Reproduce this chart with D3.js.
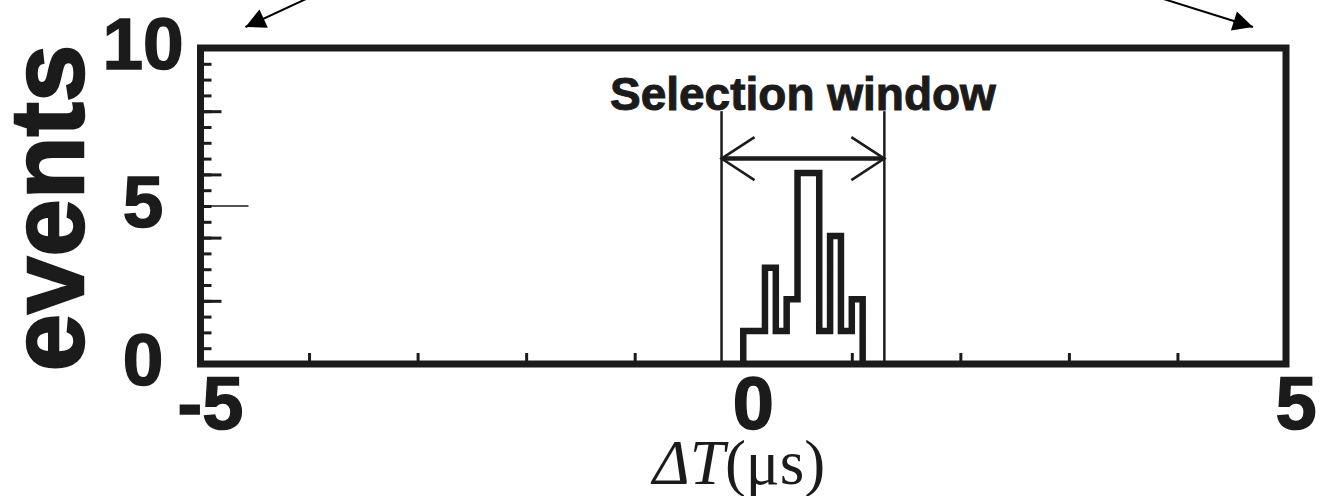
<!DOCTYPE html>
<meta charset="utf-8">
<script src="https://d3js.org/d3.v7.min.js"></script>
<style>
  body { margin: 0; background: #fff; }
  svg { display: block; }
</style>
<div id="chart"></div>
<script>
  // histogram of time differences, bins 0.1 us wide starting at 0
  const binEdges = [0.0, 0.1, 0.2, 0.3, 0.4, 0.5, 0.6, 0.7, 0.8, 0.9, 1.0, 1.1];
  const binCounts = [1, 1, 3, 1, 2, 6, 6, 1, 4, 1, 2];
  const selWindow = [-0.2, 1.3];
  const xLabels = [-5, 0, 5];
  const yLabels = [0, 5, 10];

  const width = 1326, height = 496;
  const ink = "#1b1b1b";
  const sans = "'Liberation Sans', Arial, sans-serif";

  const svg = d3.select("#chart").append("svg")
    .attr("width", width)
    .attr("height", height);

  const x = d3.scaleLinear().domain([-5, 5]).range([200.5, 1286]);
  const y = d3.scaleLinear().domain([0, 10]).range([364, 48]);

  // top arrows pointing at the corners
  svg.append("defs").append("marker")
    .attr("id", "head")
    .attr("viewBox", "0 0 10 10")
    .attr("refX", 10).attr("refY", 5)
    .attr("markerWidth", 12).attr("markerHeight", 10)
    .attr("markerUnits", "strokeWidth")
    .attr("orient", "auto")
    .append("path").attr("d", "M0,0L10,5L0,10z").attr("fill", "#000");

  svg.append("line")
    .attr("x1", x(-5) + 112).attr("y1", -4)
    .attr("x2", x(-5) + 45).attr("y2", y(10) - 21)
    .attr("stroke", "#000").attr("stroke-width", 2)
    .attr("marker-end", "url(#head)");
  svg.append("line")
    .attr("x1", x(5) - 132).attr("y1", -4)
    .attr("x2", x(5) - 33).attr("y2", y(10) - 21)
    .attr("stroke", "#000").attr("stroke-width", 2)
    .attr("marker-end", "url(#head)");

  // y ticks (inside the frame)
  svg.append("g")
    .attr("transform", `translate(${x(-5) + 2},0)`)
    .call(d3.axisRight(y).tickValues(d3.range(0.5, 10, 0.5)).tickSize(9).tickFormat(""))
    .call(g => g.select(".domain").remove())
    .call(g => g.selectAll("line").attr("stroke", ink).attr("stroke-width", 3));
  svg.append("g")
    .attr("transform", `translate(${x(-5) + 2},0)`)
    .call(d3.axisRight(y).tickValues([2, 4, 6, 8]).tickSize(19).tickFormat(""))
    .call(g => g.select(".domain").remove())
    .call(g => g.selectAll("line").attr("stroke", ink).attr("stroke-width", 3));
  svg.append("line")
    .attr("x1", x(-5)).attr("x2", x(-5) + 48)
    .attr("y1", y(5)).attr("y2", y(5))
    .attr("stroke", ink).attr("stroke-width", 1.6);

  // x ticks (inside the frame)
  svg.append("g")
    .attr("transform", `translate(0,${y(0) - 2})`)
    .call(d3.axisBottom(x).tickValues(d3.range(-4, 5)).tickSize(-9).tickFormat(""))
    .call(g => g.select(".domain").remove())
    .call(g => g.selectAll("line").attr("stroke", ink).attr("stroke-width", 3));

  // frame
  svg.append("rect")
    .attr("x", x(-5)).attr("y", y(10))
    .attr("width", x(5) - x(-5)).attr("height", y(0) - y(10))
    .attr("fill", "none").attr("stroke", ink).attr("stroke-width", 7);

  // selection window
  selWindow.forEach(v => {
    svg.append("line")
      .attr("x1", x(v)).attr("x2", x(v))
      .attr("y1", y(8)).attr("y2", y(0))
      .attr("stroke", ink).attr("stroke-width", 2.5);
  });
  const ay = y(6.5);
  svg.append("line")
    .attr("x1", x(selWindow[0])).attr("x2", x(selWindow[1]))
    .attr("y1", ay).attr("y2", ay)
    .attr("stroke", ink).attr("stroke-width", 4.5);
  [[selWindow[0], 1], [selWindow[1], -1]].forEach(([v, s]) => {
    svg.append("path")
      .attr("d", `M${x(v) + s * 33},${ay - 21.5}L${x(v)},${ay}L${x(v) + s * 33},${ay + 21.5}`)
      .attr("fill", "none").attr("stroke", ink).attr("stroke-width", 2.5);
  });
  svg.append("text")
    .attr("x", (x(selWindow[0]) + x(selWindow[1])) / 2).attr("y", 110)
    .attr("text-anchor", "middle")
    .style("font-family", sans)
    .style("font-weight", "bold").style("font-size", "46px")
    .attr("fill", ink).attr("stroke", ink).attr("stroke-width", 1)
    .text("Selection window");

  // histogram
  const pts = [{ e: binEdges[0], c: 0 }]
    .concat(binCounts.map((c, i) => ({ e: binEdges[i], c: c })))
    .concat([{ e: binEdges[binEdges.length - 1], c: 0 }]);
  svg.append("path")
    .datum(pts)
    .attr("d", d3.line().x(d => x(d.e)).y(d => y(d.c) - 1.5).curve(d3.curveStepAfter))
    .attr("fill", "none").attr("stroke", ink).attr("stroke-width", 6.5)
    .attr("stroke-linejoin", "miter");

  // tick labels
  svg.selectAll(".xl").data(xLabels).join("text")
    .attr("x", d => x(d) + 10).attr("y", 429)
    .attr("text-anchor", "middle")
    .style("font-family", sans)
    .style("font-weight", "bold").style("font-size", "74px")
    .attr("fill", ink).attr("stroke", ink).attr("stroke-width", 1.5)
    .text(d => d);
  svg.selectAll(".yl").data(yLabels).join("text")
    .attr("x", 143).attr("y", d => y(d) + 21)
    .attr("text-anchor", "middle")
    .style("font-family", sans)
    .style("font-weight", "bold").style("font-size", "73px")
    .attr("fill", ink).attr("stroke", ink).attr("stroke-width", 1.5)
    .text(d => d);

  // axis titles
  svg.append("text")
    .attr("transform", "translate(83,208) rotate(-90)")
    .attr("text-anchor", "middle")
    .style("font-family", sans)
    .style("font-weight", "bold").style("font-size", "103px")
    .attr("fill", ink).attr("stroke", ink).attr("stroke-width", 2.5)
    .text("events");

  const xt = svg.append("text")
    .attr("x", 739).attr("y", 484)
    .attr("text-anchor", "middle")
    .style("font-family", "'Liberation Serif', 'Times New Roman', serif")
    .style("font-size", "63px")
    .attr("fill", ink);
  xt.append("tspan").style("font-style", "italic").text("ΔT");
  xt.append("tspan").text("(μs)");
</script>
